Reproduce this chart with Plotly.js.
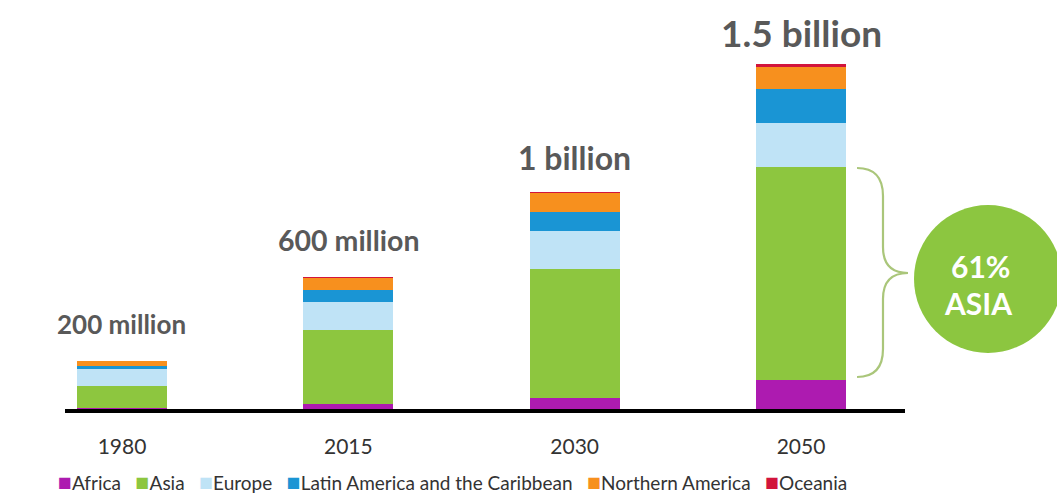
<!DOCTYPE html>
<html>
<head>
<meta charset="utf-8">
<script src="https://cdn.plot.ly/plotly-3.0.1.min.js"></script>
<style>html,body{margin:0;padding:0;background:#fff;}#chart{width:1057px;height:497px;}</style>
</head>
<body>
<div id="chart"></div>
<script>
// ---- data (millions) ----
const years = ['1980', '2015', '2030', '2050'];
const africa = [4, 23, 50, 128];
const asia = [94, 320, 560, 926];
const europe = [77, 123, 163, 190];
const latinAmerica = [12, 50, 82, 148];
const northernAmerica = [20, 55, 83, 95];
const oceania = [2, 4, 6, 13];
const totalLabels = ['200 million', '600 million', '1 billion', '1.5 billion'];
const seriesNames = ['Africa', 'Asia', 'Europe', 'Latin America and the Caribbean', 'Northern America', 'Oceania'];
const asiaShareLabel = ['61%', 'ASIA'];

const colors = ['#ad1bb0', '#8dc63f', '#bfe3f6', '#1a95d4', '#f7901e', '#d2143c'];
const seriesValues = [africa, asia, europe, latinAmerica, northernAmerica, oceania];

const traces = seriesValues.map((vals, k) => ({
  type: 'bar', name: seriesNames[k], x: years, y: vals,
  marker: {color: colors[k], line: {width: 0}},
  hoverinfo: 'skip', showlegend: false
}));

const totals = years.map((_, i) => seriesValues.reduce((s, arr) => s + arr[i], 0));

// plot geometry helpers (pixel -> paper)
const L = 65, R = 905, T = 20, B = 409;
const px = x => (x - L) / (R - L);
const py = y => (B - y) / (B - T);

const labelFont = [26, 28.5, 32, 37];
const labelShift = [37, 37, 34, 31];
const annotations = years.map((yr, i) => ({
  x: i, y: totals[i], xref: 'x', yref: 'y', text: '<b>' + totalLabels[i] + '</b>',
  showarrow: false, xanchor: 'center', yanchor: 'middle', yshift: labelShift[i],
  font: {family: 'Lato, sans-serif', size: labelFont[i], color: '#595959'}
}));

annotations.push({
  x: px(981), y: py(266), xref: 'paper', yref: 'paper', showarrow: false,
  xanchor: 'center', yanchor: 'middle',
  text: '<b>' + asiaShareLabel[0] + '</b>', font: {family: 'Lato, sans-serif', size: 30, color: '#ffffff'}
});
annotations.push({
  x: px(978), y: py(303), xref: 'paper', yref: 'paper', showarrow: false,
  xanchor: 'center', yanchor: 'middle',
  text: '<b>' + asiaShareLabel[1] + '</b>', font: {family: 'Lato, sans-serif', size: 30, color: '#ffffff'}
});

// legend as a line of text
const nb = '\u00a0';
const legendText = seriesNames.map((n, k) =>
  '<span style="color:' + colors[k] + ';font-size:23px">■</span>' + n).join(nb + nb + nb);
annotations.push({
  x: px(452), y: py(481), xref: 'paper', yref: 'paper', showarrow: false,
  xanchor: 'center', yanchor: 'middle', text: legendText,
  font: {family: 'Lato, sans-serif', size: 19, color: '#333333'}
});

// brace next to 2050 Asia segment
function P(x, y) { return px(x).toFixed(4) + ',' + py(y).toFixed(4); }
const bracePath = 'M' + P(857, 168) + ' Q' + P(883, 168) + ' ' + P(883, 196) +
  ' L' + P(883, 247) + ' Q' + P(883, 273) + ' ' + P(908, 273) +
  ' Q' + P(883, 273) + ' ' + P(883, 299) + ' L' + P(883, 349) +
  ' Q' + P(883, 377) + ' ' + P(857, 377);

const shapes = [
  {type: 'path', xref: 'paper', yref: 'paper', path: bracePath,
   line: {color: '#aac67a', width: 2.2}, fillcolor: 'rgba(0,0,0,0)'},
  {type: 'circle', xref: 'paper', yref: 'paper',
   x0: px(914), x1: px(1062), y0: py(353), y1: py(205),
   fillcolor: '#8cc640', line: {width: 0}, layer: 'above'}
];

const layout = {
  width: 1057, height: 497,
  margin: {l: L, r: 1057 - R, t: T, b: 497 - B},
  paper_bgcolor: '#ffffff', plot_bgcolor: '#ffffff',
  barmode: 'stack', bargap: 0.602,
  showlegend: false,
  font: {family: 'Lato, sans-serif', color: '#333333'},
  xaxis: {
    type: 'category', range: [-0.2518, 3.4595], fixedrange: true,
    showline: true, linecolor: '#000000', linewidth: 4,
    ticks: '', showgrid: false, zeroline: false,
    tickfont: {family: 'Lato, sans-serif', size: 21, color: '#333333'},
    ticklabelstandoff: 16
  },
  yaxis: {
    range: [0, 1691], showticklabels: false, showgrid: false,
    zeroline: false, showline: false, ticks: '', fixedrange: true
  },
  annotations: annotations,
  shapes: shapes
};

Plotly.newPlot('chart', traces, layout, {displayModeBar: false, staticPlot: true});
</script>
</body>
</html>
